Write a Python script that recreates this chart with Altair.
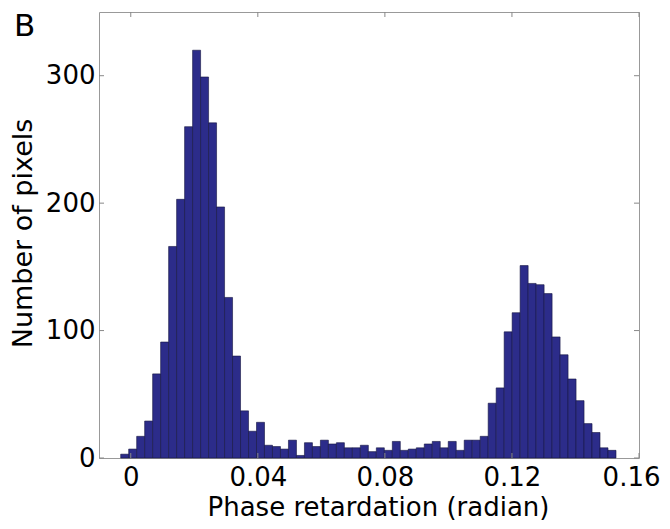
import altair as alt
import pandas as pd

# Histogram counts (62 bins)
counts = [3, 7, 17, 29, 66, 91, 166, 203, 260, 320, 299, 263, 197, 126, 80, 37, 21, 28,
          10, 9, 7, 14, 2, 12, 9, 14, 11, 12, 8, 8, 10, 5, 8, 6, 13, 6, 7, 8, 11, 13, 8, 13, 6, 14, 14, 17,
          43, 55, 99, 114, 151, 137, 136, 129, 95, 81, 62, 45, 27, 20, 8, 6]
bin_start = -0.00317
bin_width = 0.002515

x_ticks = [0, 0.04, 0.08, 0.12, 0.16]
y_ticks = [0, 100, 200, 300]
x_domain = [-0.01, 0.16]
y_domain = [0, 350]

W, H = 540, 446
FONT = "DejaVu Sans"

df = pd.DataFrame({
    "x0": [bin_start + i * bin_width for i in range(len(counts))],
    "x1": [bin_start + (i + 1) * bin_width for i in range(len(counts))],
    "n": counts,
})
dx = pd.DataFrame({"t": x_ticks})
dy = pd.DataFrame({"t": y_ticks})

xs = alt.Scale(domain=x_domain, nice=False, zero=False)
ys = alt.Scale(domain=y_domain, nice=False)

bars = alt.Chart(df).mark_bar(color="#2c2c8a", stroke="#141440", strokeWidth=0.6).encode(
    x=alt.X("x0:Q", scale=xs, axis=alt.Axis(
        values=x_ticks, title="Phase retardation (radian)",
        labelExpr="datum.value == 0 ? '0' : format(datum.value, '.2f')",
        labelBaseline="alphabetic", labelPadding=27, labelFlush=True, labelFlushOffset=21,
        labelOverlap=False,
        titleBaseline="alphabetic", titleX=279, titleY=57, titleFontSize=26,
    )),
    x2="x1:Q",
    y=alt.Y("n:Q", scale=ys, axis=alt.Axis(
        values=y_ticks, title="Number of pixels", labelPadding=4,
        titleX=-62, titleY=221, titleFontSize=27,
    )),
    y2=alt.datum(0),
)

tick_style = dict(color="#888888", strokeWidth=1)
bt = alt.Chart(dx).mark_rule(**tick_style).encode(
    x=alt.X("t:Q", scale=xs), y=alt.value(H), y2=alt.value(H - 5))
tt = alt.Chart(dx).mark_rule(**tick_style).encode(
    x=alt.X("t:Q", scale=xs), y=alt.value(0), y2=alt.value(5))
lt = alt.Chart(dy).mark_rule(**tick_style).encode(
    y=alt.Y("t:Q", scale=ys), x=alt.value(0), x2=alt.value(5))
rt = alt.Chart(dy).mark_rule(**tick_style).encode(
    y=alt.Y("t:Q", scale=ys), x=alt.value(W), x2=alt.value(W - 5))

label = alt.Chart(pd.DataFrame({"s": ["B"]})).mark_text(
    font=FONT, fontSize=31, align="left", baseline="alphabetic", color="black"
).encode(text="s:N", x=alt.value(-85), y=alt.value(24))

chart = alt.layer(bars, bt, tt, lt, rt, label).properties(
    width=W, height=H,
    autosize=alt.AutoSizeParams(type="none"),
    padding={"left": 91, "top": 4, "right": 22, "bottom": 63},
).configure_view(
    stroke="#999999", strokeWidth=1
).configure_axis(
    domain=False, ticks=False, grid=False,
    labelFont=FONT, labelFontSize=26, labelColor="black",
    titleFont=FONT, titleColor="black", titleFontWeight="normal",
)

chart.save("out.html", embed_options={"renderer": "svg", "actions": False})
